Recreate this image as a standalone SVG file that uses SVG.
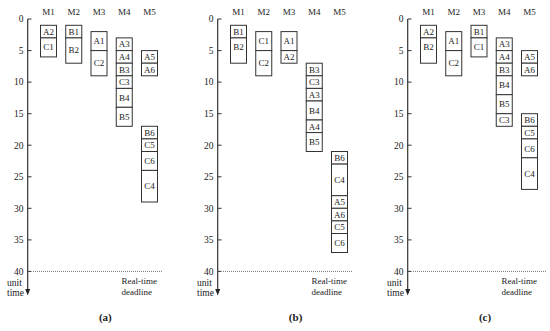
<svg xmlns="http://www.w3.org/2000/svg" width="550" height="331" viewBox="0 0 550 331">
<defs>
<style>
text{font-family:"Liberation Serif","DejaVu Serif",serif;fill:#222}
.h{font-size:9px;text-anchor:middle}
.n{font-size:9.5px;text-anchor:end}
.l{font-size:9px;text-anchor:middle}
.u{font-size:9.5px}
.r{font-size:9px}
.cap{font-size:11px;font-weight:bold;text-anchor:middle}
.b rect{fill:#fff;stroke:#333;stroke-width:1}
.ax{stroke:#333;stroke-width:1.2;fill:none}
.tk{stroke:#333;stroke-width:1}
.dl{stroke:#777;stroke-width:1;stroke-dasharray:1 1;fill:none}
</style>
<g id="axis">
<line class="ax" x1="27.7" y1="19" x2="27.7" y2="290"/>
<polygon points="25.2,289 30.2,289 27.7,295.5" fill="#222"/>
<g class="tk">
<line x1="27.7" y1="19" x2="31.5" y2="19"/>
<line x1="27.7" y1="50.6" x2="31.5" y2="50.6"/>
<line x1="27.7" y1="82.1" x2="31.5" y2="82.1"/>
<line x1="27.7" y1="113.7" x2="31.5" y2="113.7"/>
<line x1="27.7" y1="145.2" x2="31.5" y2="145.2"/>
<line x1="27.7" y1="176.8" x2="31.5" y2="176.8"/>
<line x1="27.7" y1="208.3" x2="31.5" y2="208.3"/>
<line x1="27.7" y1="239.9" x2="31.5" y2="239.9"/>
<line x1="27.7" y1="271.4" x2="31.5" y2="271.4"/>
</g>
<text class="n" x="23.5" y="22.3">0</text>
<text class="n" x="23.5" y="53.9">5</text>
<text class="n" x="23.5" y="85.4">10</text>
<text class="n" x="23.5" y="117">15</text>
<text class="n" x="23.5" y="148.5">20</text>
<text class="n" x="23.5" y="180.1">25</text>
<text class="n" x="23.5" y="211.6">30</text>
<text class="n" x="23.5" y="243.2">35</text>
<text class="n" x="23.5" y="274.7">40</text>
<text class="u" x="7" y="285.8">unit</text>
<text class="u" x="7" y="295.5">time</text>
<text class="h" x="48.5" y="15">M1</text>
<text class="h" x="73.75" y="15">M2</text>
<text class="h" x="99" y="15">M3</text>
<text class="h" x="124.25" y="15">M4</text>
<text class="h" x="149.5" y="15">M5</text>
<text class="r" x="121.5" y="283.5">Real-time</text>
<text class="r" x="121.5" y="295.3">deadline</text>
</g>
</defs>

<g id="connectors">
<g id="axis-a"><use href="#axis"/><line class="dl" x1="33" y1="271.4" x2="162" y2="271.4"/></g>
<g id="axis-b" transform="translate(190,0)"><use href="#axis"/><line class="dl" x1="33" y1="271.4" x2="163" y2="271.4"/></g>
<g id="axis-c" transform="translate(380,0)"><use href="#axis"/><line class="dl" x1="33" y1="271.4" x2="167" y2="271.4"/></g>
</g>

<g id="panel-a">
<g id="a-M1-A2" class="b"><rect x="40.5" y="25.3" width="16" height="12.6"/><text class="l" x="48.5" y="34.8">A2</text></g>
<g id="a-M1-C1" class="b"><rect x="40.5" y="37.9" width="16" height="19"/><text class="l" x="48.5" y="50.2">C1</text></g>
<g id="a-M2-B1" class="b"><rect x="65.75" y="25.3" width="16" height="12.6"/><text class="l" x="73.75" y="34.8">B1</text></g>
<g id="a-M2-B2" class="b"><rect x="65.75" y="37.9" width="16" height="25.3"/><text class="l" x="73.75" y="53.3">B2</text></g>
<g id="a-M3-A1" class="b"><rect x="91" y="31.6" width="16" height="19"/><text class="l" x="99" y="44">A1</text></g>
<g id="a-M3-C2" class="b"><rect x="91" y="50.6" width="16" height="25.2"/><text class="l" x="99" y="66">C2</text></g>
<g id="a-M4-A3" class="b"><rect x="116.25" y="37.9" width="16" height="12.7"/><text class="l" x="124.25" y="47.4">A3</text></g>
<g id="a-M4-A4" class="b"><rect x="116.25" y="50.6" width="16" height="12.6"/><text class="l" x="124.25" y="60.1">A4</text></g>
<g id="a-M4-B3" class="b"><rect x="116.25" y="63.2" width="16" height="12.6"/><text class="l" x="124.25" y="72.7">B3</text></g>
<g id="a-M4-C3" class="b"><rect x="116.25" y="75.8" width="16" height="12.6"/><text class="l" x="124.25" y="85.3">C3</text></g>
<g id="a-M4-B4" class="b"><rect x="116.25" y="88.4" width="16" height="18.9"/><text class="l" x="124.25" y="101">B4</text></g>
<g id="a-M4-B5" class="b"><rect x="116.25" y="107.3" width="16" height="19"/><text class="l" x="124.25" y="119.8">B5</text></g>
<g id="a-M5-A5" class="b"><rect x="141.5" y="50.6" width="16" height="12.6"/><text class="l" x="149.5" y="60.1">A5</text></g>
<g id="a-M5-A6" class="b"><rect x="141.5" y="63.2" width="16" height="12.6"/><text class="l" x="149.5" y="72.7">A6</text></g>
<g id="a-M5-B6" class="b"><rect x="141.5" y="126.3" width="16" height="12.6"/><text class="l" x="149.5" y="135.8">B6</text></g>
<g id="a-M5-C5" class="b"><rect x="141.5" y="138.9" width="16" height="12.6"/><text class="l" x="149.5" y="148.4">C5</text></g>
<g id="a-M5-C6" class="b"><rect x="141.5" y="151.5" width="16" height="18.9"/><text class="l" x="149.5" y="164">C6</text></g>
<g id="a-M5-C4" class="b"><rect x="141.5" y="170.4" width="16" height="31.6"/><text class="l" x="149.5" y="189.3">C4</text></g>
<text class="cap" x="105.3" y="321">(a)</text>
</g>

<g id="panel-b" transform="translate(190,0)">
<g id="b-M1-B1" class="b"><rect x="40.5" y="25.3" width="16" height="12.6"/><text class="l" x="48.5" y="34.8">B1</text></g>
<g id="b-M1-B2" class="b"><rect x="40.5" y="37.9" width="16" height="25.3"/><text class="l" x="48.5" y="50">B2</text></g>
<g id="b-M2-C1" class="b"><rect x="65.75" y="31.6" width="16" height="19"/><text class="l" x="73.75" y="44">C1</text></g>
<g id="b-M2-C2" class="b"><rect x="65.75" y="50.6" width="16" height="25.2"/><text class="l" x="73.75" y="66">C2</text></g>
<g id="b-M3-A1" class="b"><rect x="91" y="31.6" width="16" height="19"/><text class="l" x="99" y="44">A1</text></g>
<g id="b-M3-A2" class="b"><rect x="91" y="50.6" width="16" height="12.6"/><text class="l" x="99" y="60.1">A2</text></g>
<g id="b-M4-B3" class="b"><rect x="116.25" y="63.2" width="16" height="12.6"/><text class="l" x="124.25" y="72.7">B3</text></g>
<g id="b-M4-C3" class="b"><rect x="116.25" y="75.8" width="16" height="12.6"/><text class="l" x="124.25" y="85.3">C3</text></g>
<g id="b-M4-A3" class="b"><rect x="116.25" y="88.4" width="16" height="12.6"/><text class="l" x="124.25" y="97.9">A3</text></g>
<g id="b-M4-B4" class="b"><rect x="116.25" y="101" width="16" height="19"/><text class="l" x="124.25" y="113.6">B4</text></g>
<g id="b-M4-A4" class="b"><rect x="116.25" y="120" width="16" height="12.6"/><text class="l" x="124.25" y="129.5">A4</text></g>
<g id="b-M4-B5" class="b"><rect x="116.25" y="132.6" width="16" height="18.9"/><text class="l" x="124.25" y="145.2">B5</text></g>
<g id="b-M5-B6" class="b"><rect x="141.5" y="151.5" width="16" height="12.6"/><text class="l" x="149.5" y="161">B6</text></g>
<g id="b-M5-C4" class="b"><rect x="141.5" y="164.1" width="16" height="31.6"/><text class="l" x="149.5" y="183">C4</text></g>
<g id="b-M5-A5" class="b"><rect x="141.5" y="195.7" width="16" height="12.6"/><text class="l" x="149.5" y="205.2">A5</text></g>
<g id="b-M5-A6" class="b"><rect x="141.5" y="208.3" width="16" height="12.6"/><text class="l" x="149.5" y="217.8">A6</text></g>
<g id="b-M5-C5" class="b"><rect x="141.5" y="220.9" width="16" height="12.6"/><text class="l" x="149.5" y="230.4">C5</text></g>
<g id="b-M5-C6" class="b"><rect x="141.5" y="233.5" width="16" height="19"/><text class="l" x="149.5" y="246">C6</text></g>
<text class="cap" x="105.6" y="321">(b)</text>
</g>

<g id="panel-c" transform="translate(380,0)">
<g id="c-M1-A2" class="b"><rect x="40.5" y="25.3" width="16" height="12.6"/><text class="l" x="48.5" y="34.8">A2</text></g>
<g id="c-M1-B2" class="b"><rect x="40.5" y="37.9" width="16" height="25.3"/><text class="l" x="48.5" y="50">B2</text></g>
<g id="c-M2-A1" class="b"><rect x="65.75" y="31.6" width="16" height="19"/><text class="l" x="73.75" y="44">A1</text></g>
<g id="c-M2-C2" class="b"><rect x="65.75" y="50.6" width="16" height="25.2"/><text class="l" x="73.75" y="66">C2</text></g>
<g id="c-M3-B1" class="b"><rect x="91" y="25.3" width="16" height="12.6"/><text class="l" x="99" y="34.8">B1</text></g>
<g id="c-M3-C1" class="b"><rect x="91" y="37.9" width="16" height="19"/><text class="l" x="99" y="50.2">C1</text></g>
<g id="c-M4-A3" class="b"><rect x="116.25" y="37.9" width="16" height="12.7"/><text class="l" x="124.25" y="47.4">A3</text></g>
<g id="c-M4-A4" class="b"><rect x="116.25" y="50.6" width="16" height="12.6"/><text class="l" x="124.25" y="60.1">A4</text></g>
<g id="c-M4-B3" class="b"><rect x="116.25" y="63.2" width="16" height="12.6"/><text class="l" x="124.25" y="72.7">B3</text></g>
<g id="c-M4-B4" class="b"><rect x="116.25" y="75.8" width="16" height="18.9"/><text class="l" x="124.25" y="88.4">B4</text></g>
<g id="c-M4-B5" class="b"><rect x="116.25" y="94.7" width="16" height="19"/><text class="l" x="124.25" y="107.3">B5</text></g>
<g id="c-M4-C3" class="b"><rect x="116.25" y="113.7" width="16" height="12.6"/><text class="l" x="124.25" y="123.2">C3</text></g>
<g id="c-M5-A5" class="b"><rect x="141.5" y="50.6" width="16" height="12.6"/><text class="l" x="149.5" y="60.1">A5</text></g>
<g id="c-M5-A6" class="b"><rect x="141.5" y="63.2" width="16" height="12.6"/><text class="l" x="149.5" y="72.7">A6</text></g>
<g id="c-M5-B6" class="b"><rect x="141.5" y="113.7" width="16" height="12.6"/><text class="l" x="149.5" y="123.2">B6</text></g>
<g id="c-M5-C5" class="b"><rect x="141.5" y="126.3" width="16" height="12.6"/><text class="l" x="149.5" y="135.8">C5</text></g>
<g id="c-M5-C6" class="b"><rect x="141.5" y="138.9" width="16" height="18.9"/><text class="l" x="149.5" y="151.5">C6</text></g>
<g id="c-M5-C4" class="b"><rect x="141.5" y="157.8" width="16" height="31.6"/><text class="l" x="149.5" y="176.7">C4</text></g>
<text class="cap" x="105" y="321">(c)</text>
</g>
</svg>
